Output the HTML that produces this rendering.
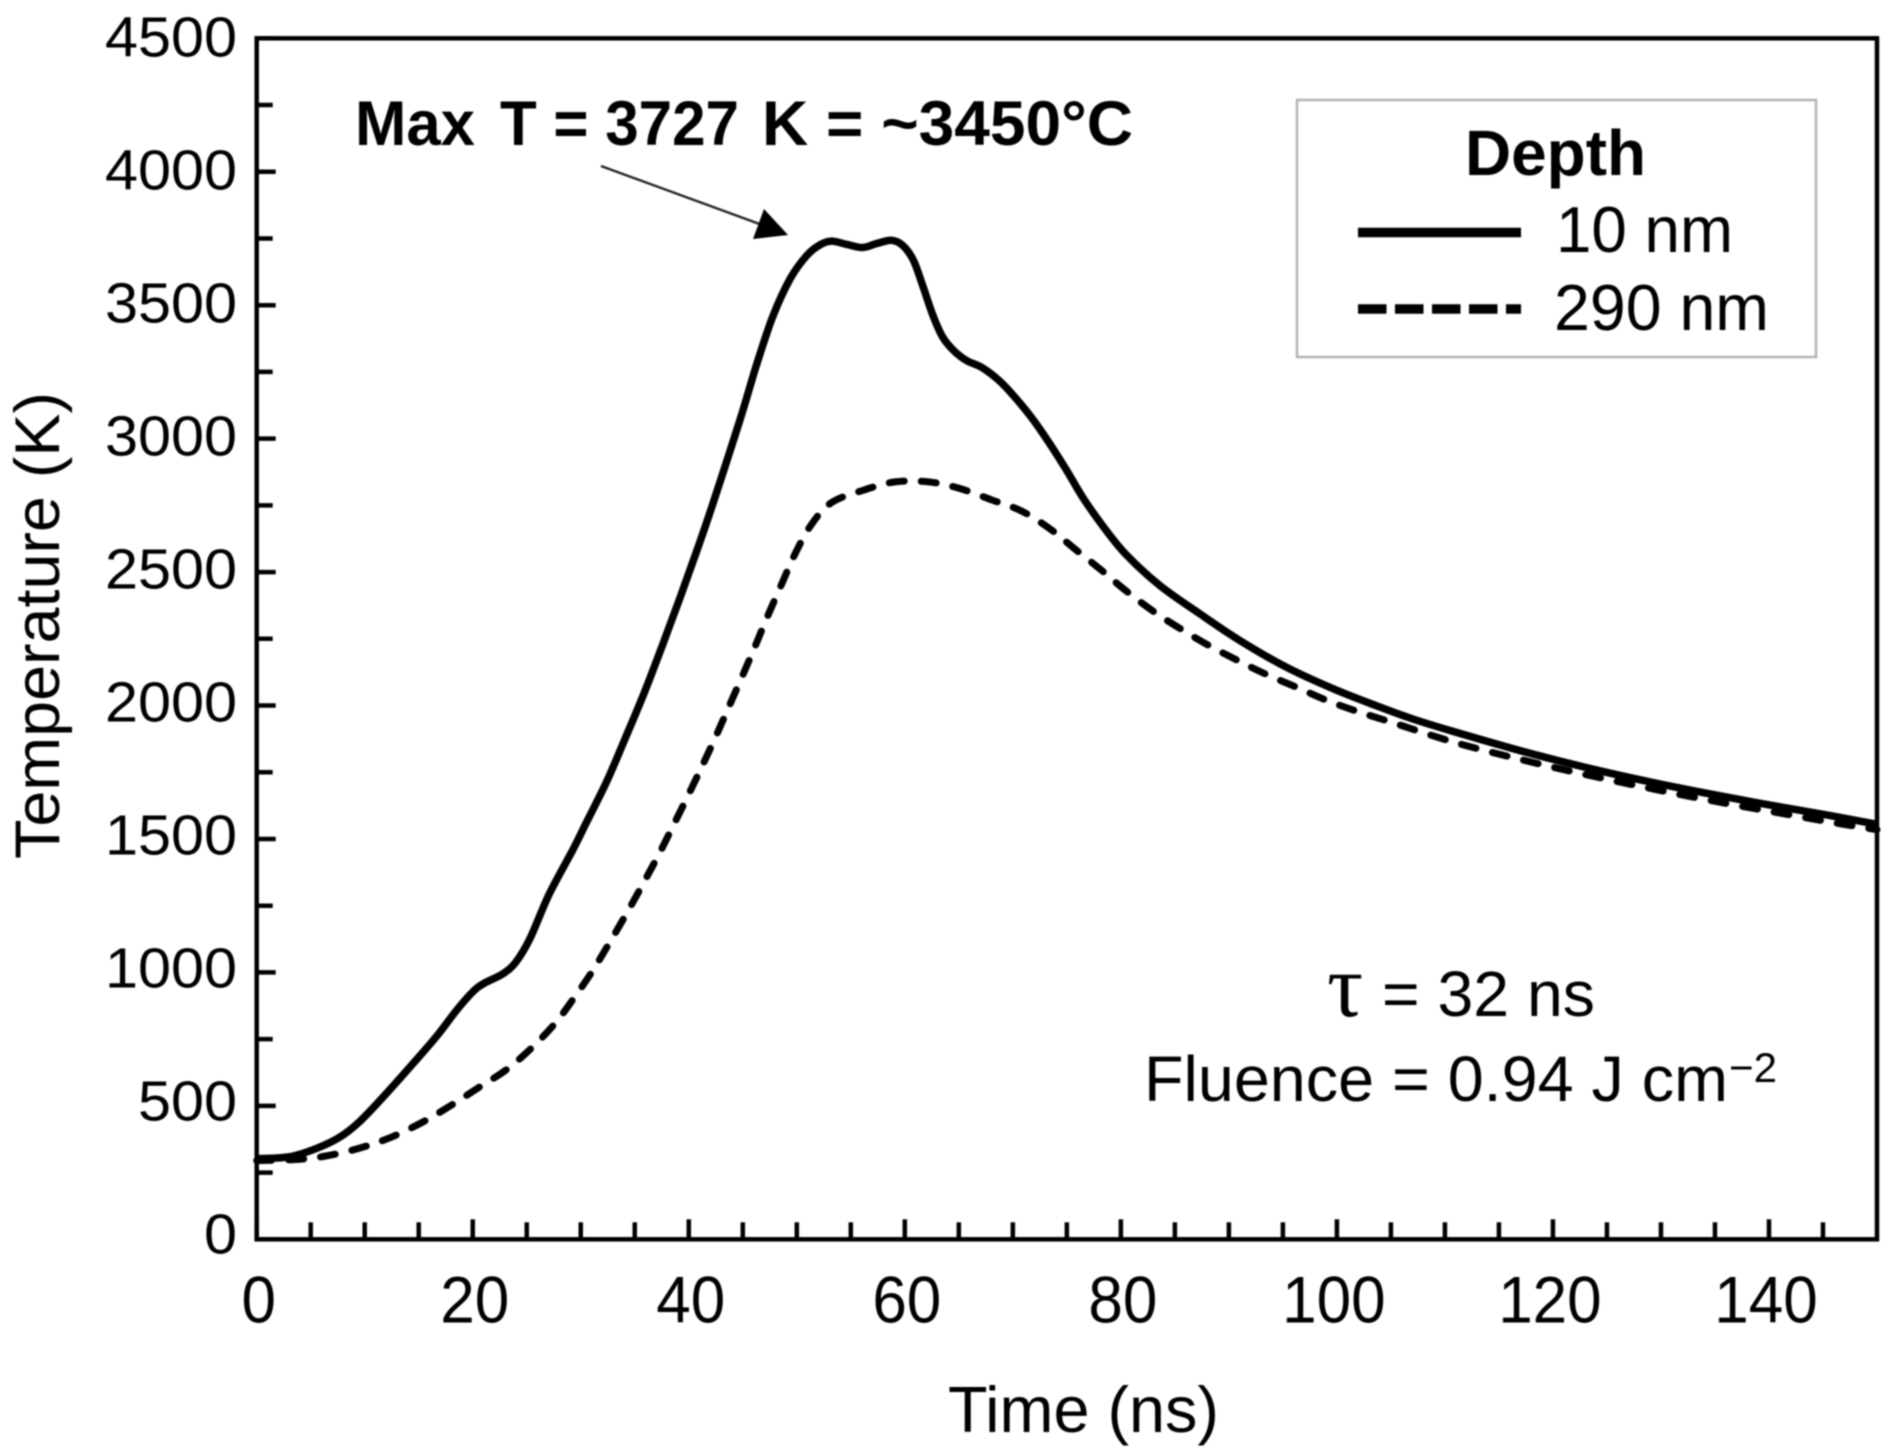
<!DOCTYPE html>
<html lang="en">
<head>
<meta charset="utf-8">
<title>Temperature vs Time</title>
<style>
html,body{margin:0;padding:0;background:#fff;}
svg{display:block;filter:blur(0.7px);}
text{font-family:"Liberation Sans",sans-serif;fill:#000;}
</style>
</head>
<body>
<svg id="chart" xmlns="http://www.w3.org/2000/svg" width="1892" height="1454" viewBox="0 0 1892 1454">
  <rect x="0" y="0" width="1892" height="1454" fill="#fff"/>
  <g id="ticks"></g>
  <g id="labels"></g>
  <g id="series"></g>
  <rect x="256.7" y="38.3" width="1620.3" height="1201" fill="none" stroke="#000" stroke-width="4.5"/>

  <text transform="translate(59,859) rotate(-90)" font-size="63" textLength="467" lengthAdjust="spacingAndGlyphs">Temperature (K)</text>
  <text x="948" y="1432" font-size="65" textLength="271" lengthAdjust="spacingAndGlyphs">Time (ns)</text>

  <g>
    <text x="355" y="145" font-size="63" font-weight="bold" textLength="120" lengthAdjust="spacingAndGlyphs">Max</text>
    <text x="500" y="145" font-size="63" font-weight="bold" textLength="239" lengthAdjust="spacingAndGlyphs">T = 3727</text>
    <text x="762" y="145" font-size="63" font-weight="bold" textLength="371" lengthAdjust="spacingAndGlyphs">K = ~3450°C</text>
  </g>
  <line x1="601" y1="166" x2="765" y2="226" stroke="#222" stroke-width="2.4"/>
  <polygon points="788,235 764,209 753,239" fill="#000"/>

  <g>
    <rect x="1297" y="100" width="519" height="257" fill="#fff" stroke="#b4b4b4" stroke-width="2.5"/>
    <text x="1465" y="175" font-size="64" font-weight="bold" textLength="181" lengthAdjust="spacingAndGlyphs">Depth</text>
    <line x1="1358" y1="232.5" x2="1521" y2="232.5" stroke="#000" stroke-width="9.5"/>
    <text x="1556" y="252" font-size="65" textLength="177" lengthAdjust="spacingAndGlyphs">10 nm</text>
    <line x1="1358" y1="309" x2="1521" y2="309" stroke="#000" stroke-width="9.5" stroke-dasharray="28.5 8.5"/>
    <text x="1554" y="330" font-size="65" textLength="215" lengthAdjust="spacingAndGlyphs">290 nm</text>
  </g>

  <text x="1327" y="1016" font-size="90" style="font-family:'Liberation Serif',serif">τ</text>
  <text x="1382" y="1016" font-size="64" textLength="213" lengthAdjust="spacingAndGlyphs">= 32 ns</text>
  <text x="1144" y="1101" font-size="64" textLength="584" lengthAdjust="spacingAndGlyphs">Fluence = 0.94 J cm</text>
  <text x="1729" y="1082" font-size="42" textLength="48" lengthAdjust="spacingAndGlyphs">−2</text>
</svg>
<script>
const xMajorTicks = [0, 20, 40, 60, 80, 100, 120, 140];
const xMinorTicks = [5, 10, 15, 25, 30, 35, 45, 50, 55, 65, 70, 75, 85, 90, 95, 105, 110, 115, 125, 130, 135, 145];
const yMajorTicks = [0, 500, 1000, 1500, 2000, 2500, 3000, 3500, 4000, 4500];
const yMinorTicks = [250, 750, 1250, 1750, 2250, 2750, 3250, 3750, 4250];

const time10nm = [0, 3, 5.5, 7.7, 9.5, 11.7, 14.2, 16.6, 18.5, 20, 21, 22.8, 24, 25.3, 27.1, 29.3, 30.5, 32.4, 34.2, 35.9, 37.6, 39.2, 40.7, 42.1, 44.7, 46.3, 47.8, 49.4, 50.9, 52.1, 53.2, 54.6, 56.1, 57.4, 58.8, 59.8, 60.8, 61.7, 62.6, 63.5, 64.5, 65.7, 67.2, 68.8, 70.3, 71.9, 73.4, 75, 76.5, 78.4, 80.5, 83.6, 87.3, 91, 95.3, 99.7, 103.6, 107, 110.6, 117.6, 124.6, 131.6, 138.6, 145.6, 150];
const temp10nm = [302, 309, 340, 383, 440, 533, 646, 758, 858, 927, 958, 995, 1039, 1127, 1295, 1462, 1560, 1715, 1885, 2050, 2230, 2405, 2575, 2740, 3065, 3280, 3460, 3600, 3685, 3725, 3740, 3728, 3716, 3731, 3743, 3724, 3668, 3568, 3462, 3381, 3331, 3293, 3265, 3215, 3150, 3070, 2982, 2880, 2778, 2669, 2565, 2450, 2344, 2244, 2144, 2062, 2000, 1950, 1905, 1824, 1753, 1692, 1638, 1588, 1555];

const time290nm = [0, 4, 6.8, 9.8, 12.6, 15.4, 18, 20.6, 23.1, 25.4, 27.6, 29.3, 31, 32.5, 34.2, 35.6, 37.2, 38.5, 39.9, 41.2, 42.4, 43.6, 44.9, 46.1, 47.3, 48.6, 49.8, 51.3, 53.2, 56.1, 59.1, 62.2, 65.1, 68, 70.8, 73.4, 75.7, 78.2, 80.5, 83, 85.5, 88.1, 90.9, 93.5, 96.4, 99.2, 102.1, 105, 110.8, 116.7, 122.6, 128.6, 134.5, 140.6, 146.6, 150];
const temp290nm = [295, 300, 315, 345, 385, 440, 502, 570, 635, 715, 808, 900, 1000, 1100, 1218, 1320, 1440, 1545, 1660, 1770, 1875, 1985, 2105, 2218, 2335, 2455, 2565, 2675, 2760, 2806, 2838, 2838, 2813, 2771, 2729, 2663, 2588, 2507, 2429, 2353, 2288, 2226, 2167, 2116, 2066, 2017, 1975, 1938, 1863, 1801, 1745, 1693, 1645, 1600, 1557, 1535];

const NS = 'http://www.w3.org/2000/svg';
const X0 = 256.7, X1 = 1877, Y0 = 1239.3, Y1 = 38.3;
const xMax = 150, yMax = 4500;
function xScale(t) { return X0 + (t / xMax) * (X1 - X0); }
function yScale(v) { return Y0 - (v / yMax) * (Y0 - Y1); }

function make(tag, parent, attrs) {
  const el = document.createElementNS(NS, tag);
  for (const k in attrs) el.setAttribute(k, attrs[k]);
  parent.appendChild(el);
  return el;
}

const tickGroup = document.getElementById('ticks');
const labelGroup = document.getElementById('labels');
const seriesGroup = document.getElementById('series');

function xTick(t, len, name) {
  const el = make('line', tickGroup, { x1: xScale(t), x2: xScale(t), y1: Y0, y2: Y0 - len, stroke: '#000', 'stroke-width': 4.5 });
  
  
}
function yTick(v, len, name) {
  const el = make('line', tickGroup, { x1: X0, x2: X0 + len, y1: yScale(v), y2: yScale(v), stroke: '#000', 'stroke-width': 4.5 });
  
  
}
xMajorTicks.forEach(function (t) { xTick(t, 20, 'x-major-tick'); });
xMinorTicks.forEach(function (t) { xTick(t, 17, 'x-minor-tick'); });
yMajorTicks.forEach(function (v) { yTick(v, 19, 'y-major-tick'); });
yMinorTicks.forEach(function (v) { yTick(v, 16, 'y-minor-tick'); });

xMajorTicks.forEach(function (t) {
  const s = String(t);
  const el = make('text', labelGroup, { x: xScale(t) + 2 - (s.length > 2 ? 5 : 0), y: 1322.5, 'font-size': 66, 'text-anchor': 'middle', textLength: s.length * 34.5, lengthAdjust: 'spacingAndGlyphs' });
  el.textContent = s;
  
  
});
yMajorTicks.forEach(function (v) {
  const s = String(v);
  const el = make('text', labelGroup, { x: 237, y: yScale(v) + 14 + (v / yMax) * 4.3, 'font-size': 57, 'text-anchor': 'end', textLength: s.length * 33, lengthAdjust: 'spacingAndGlyphs' });
  el.textContent = s;
  
  
});

function smoothPath(times, temps) {
  const p = times.map(function (t, i) { return [xScale(t), yScale(temps[i])]; });
  let d = 'M' + p[0][0].toFixed(2) + ' ' + p[0][1].toFixed(2);
  for (let i = 0; i < p.length - 1; i++) {
    const a = p[Math.max(i - 1, 0)], b = p[i], c = p[i + 1], e = p[Math.min(i + 2, p.length - 1)];
    const c1x = b[0] + (c[0] - a[0]) / 6, c1y = b[1] + (c[1] - a[1]) / 6;
    const c2x = c[0] - (e[0] - b[0]) / 6, c2y = c[1] - (e[1] - b[1]) / 6;
    d += 'C' + c1x.toFixed(2) + ' ' + c1y.toFixed(2) + ' ' + c2x.toFixed(2) + ' ' + c2y.toFixed(2) + ' ' + c[0].toFixed(2) + ' ' + c[1].toFixed(2);
  }
  return d;
}

const line290 = make('path', seriesGroup, { d: smoothPath(time290nm, temp290nm), fill: 'none', stroke: '#000', 'stroke-width': 7, 'stroke-linecap': 'round', 'stroke-dasharray': '15 17' });


const line10 = make('path', seriesGroup, { d: smoothPath(time10nm, temp10nm), fill: 'none', stroke: '#000', 'stroke-width': 7.5, 'stroke-linejoin': 'round' });


</script>
</body>
</html>
